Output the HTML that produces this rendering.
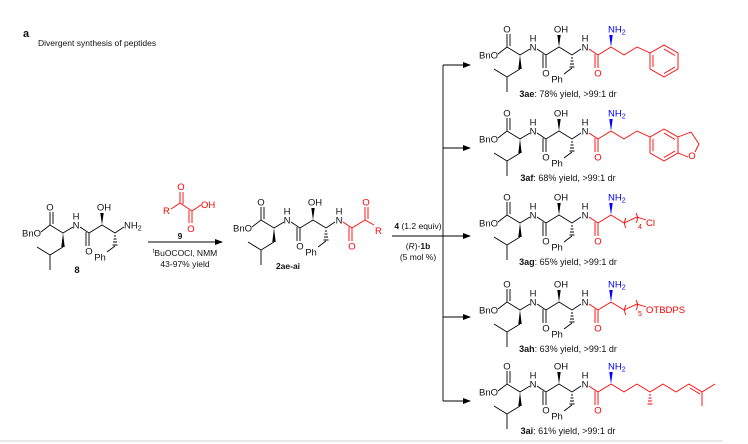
<!DOCTYPE html>
<html><head><meta charset="utf-8"><style>
html,body{margin:0;padding:0;background:#fff;width:748px;height:444px;overflow:hidden}
svg{display:block}
text{font-family:"Liberation Sans",sans-serif;font-size:9.5px;fill:#111}
.k{stroke:#000;stroke-width:0.9;fill:none}
.r{stroke:#f00;stroke-width:0.9;fill:none}
.rt{fill:#f00}
.bt{fill:#00f}
.cap{font-size:9px}
.mid{text-anchor:middle}
</style></head><body>
<svg width="748" height="444" viewBox="0 0 748 444">
<defs>
<marker id="ah" markerWidth="8" markerHeight="6" refX="7" refY="3" orient="auto" markerUnits="userSpaceOnUse"><path d="M0,0 L8,3 L0,6 Z" fill="#000"/></marker>
<g id="bb">
<path class="k" d="M19,-1 L28,-8 L41,0 L51,-6 M58,-6 L67,0 L80,-8 L93,0 L102,-6 M28,-8 V-21 M31,-9 V-21 M67,0 V13 M64,-1 V13 M41,14 L28,22 L15,14 M28,22 V37 M93,13 L85,19"/>
<polygon points="41,0 39.3,14 42.7,14" fill="#000"/>
<polygon points="80,-8 78.3,-20 81.7,-20" fill="#000"/>
<path class="k" d="M92,3 h2 M91.5,6 h3 M91,9 h4 M90.5,12 h5"/>
</g>
<g id="rd">
<path class="r" d="M110,-6 L119,0 L132,-8 M119,0 V13 M116,-1 V13"/>
<polygon points="132,-8 130.3,-20 133.7,-20" fill="#00f"/>
</g>
</defs>

<text x="23" y="37" style="font-weight:bold;font-size:11px">a</text>
<text x="38" y="46" style="font-size:8.5px">Divergent synthesis of peptides</text>

<!-- compound 8 -->
<g transform="translate(22,233)">
<use href="#bb"/>
<text x="0" y="3.5">BnO</text>
<text class="mid" x="28" y="-22.5">O</text>
<text class="mid" x="54" y="-4.5">N</text><text class="mid" x="54" y="-13.5">H</text>
<text class="mid" x="67" y="21.5">O</text>
<text class="mid" x="82" y="-22.5">OH</text>
<text class="mid" x="78" y="27.5">Ph</text>
<text x="102" y="-4.5">NH<tspan font-size="7" dy="2">2</tspan></text>
<text class="mid" x="55" y="40" style="font-weight:bold">8</text>
</g>

<!-- reagent 9 -->
<g transform="translate(0,-2)">
<path class="r" d="M171,211 L180,205 L192,213 L201,207 M180,205 V194 M183,206 V194 M192,213 V225 M189,212 V225"/>
<text class="rt" x="163" y="216">R</text>
<text class="rt mid" x="181" y="192">O</text>
<text class="rt" x="201" y="210">OH</text>
<text class="rt mid" x="191" y="234">O</text>
</g>
<text class="mid" x="180" y="239" style="font-weight:bold;font-size:8.5px">9</text>
<line x1="148" y1="242" x2="222" y2="242" stroke="#000" stroke-width="0.9" marker-end="url(#ah)"/>
<text class="mid" x="185" y="256" style="font-size:8.5px"><tspan font-size="6" dy="-3">t</tspan><tspan dy="3">BuOCOCl, NMM</tspan></text>
<text class="mid" x="185" y="267" style="font-size:8.5px">43-97% yield</text>

<!-- compound 2ae-ai -->
<g transform="translate(233,228)">
<use href="#bb"/>
<path class="r" d="M110,-6 L119,0 L132,-8 L141,-3 M119,0 V13 M116,-1 V13 M132,-8 V-21 M135,-9 V-21"/>
<text x="0" y="3.5">BnO</text>
<text class="mid" x="28" y="-22.5">O</text>
<text class="mid" x="54" y="-4.5">N</text><text class="mid" x="54" y="-13.5">H</text>
<text class="mid" x="67" y="21.5">O</text>
<text class="mid" x="82" y="-22.5">OH</text>
<text class="mid" x="78" y="27.5">Ph</text>
<text class="mid" x="106" y="-4.5">N</text><text class="mid" x="106" y="-13.5">H</text>
<text class="rt mid" x="119" y="21.5">O</text>
<text class="rt mid" x="133" y="-22.5">O</text>
<text class="rt" x="142" y="6">R</text>
<text class="mid" x="55" y="41" style="font-weight:bold;font-size:8.5px">2ae-ai</text>
</g>

<!-- second arrow & conditions -->
<line x1="392" y1="236" x2="443" y2="236" stroke="#000" stroke-width="0.9"/>
<text class="mid" x="418" y="229" style="font-size:8.5px"><tspan font-weight="bold">4</tspan> (1.2 equiv)</text>
<text class="mid" x="418" y="249" style="font-size:8.5px">(<tspan font-style="italic">R</tspan>)-<tspan font-weight="bold">1b</tspan></text>
<text class="mid" x="418" y="260" style="font-size:8.5px">(5 mol %)</text>
<line x1="443" y1="65" x2="443" y2="401" stroke="#000" stroke-width="0.9"/>
<g stroke="#000" stroke-width="0.9">
<line x1="443" y1="65" x2="470" y2="65" marker-end="url(#ah)"/>
<line x1="443" y1="148" x2="470" y2="148" marker-end="url(#ah)"/>
<line x1="443" y1="236" x2="470" y2="236" marker-end="url(#ah)"/>
<line x1="443" y1="317" x2="470" y2="317" marker-end="url(#ah)"/>
<line x1="443" y1="401" x2="470" y2="401" marker-end="url(#ah)"/>
</g>

<!-- row 1: 3ae -->
<g transform="translate(479,55)">
<use href="#bb"/><use href="#rd"/>
<text x="0" y="3.5">BnO</text>
<text class="mid" x="28" y="-22.5">O</text>
<text class="mid" x="54" y="-4.5">N</text><text class="mid" x="54" y="-13.5">H</text>
<text class="mid" x="67" y="21.5">O</text>
<text class="mid" x="82" y="-22.5">OH</text>
<text class="mid" x="78" y="27.5">Ph</text>
<text class="mid" x="106" y="-4.5">N</text><text class="mid" x="106" y="-13.5">H</text>
<text class="rt mid" x="119" y="21.5">O</text>
<text class="bt" x="129" y="-22.5">NH<tspan font-size="7" dy="2">2</tspan></text>
<path class="r" d="M132,-8 L145,0 L158,-8 L171,-2 M185,-10 L199,-2 L199,14 L185,22 L171,14 L171,-2 Z M185,-6 L196,0.5 M196,12 L185,18.5 M174,12 V0"/>
<text class="cap mid" x="89" y="42"><tspan font-weight="bold">3ae</tspan>: 78% yield, &gt;99:1 dr</text>
</g>

<!-- row 2: 3af -->
<g transform="translate(479,139)">
<use href="#bb"/><use href="#rd"/>
<text x="0" y="3.5">BnO</text>
<text class="mid" x="28" y="-22.5">O</text>
<text class="mid" x="54" y="-4.5">N</text><text class="mid" x="54" y="-13.5">H</text>
<text class="mid" x="67" y="21.5">O</text>
<text class="mid" x="82" y="-22.5">OH</text>
<text class="mid" x="78" y="27.5">Ph</text>
<text class="mid" x="106" y="-4.5">N</text><text class="mid" x="106" y="-13.5">H</text>
<text class="rt mid" x="119" y="21.5">O</text>
<text class="bt" x="129" y="-22.5">NH<tspan font-size="7" dy="2">2</tspan></text>
<path class="r" d="M132,-8 L145,0 L158,-8 L171,-2 M185,-10 L199,-2 L199,14 L185,22 L171,14 L171,-2 Z M185,-6 L196,0.5 M196,12 L185,18.5 M174,12 V0 M199,-2 L212,-7 L220,5 L216,13 M209,18 L199,14"/>
<text class="rt mid" x="213" y="20">O</text>
<text class="cap mid" x="89" y="42"><tspan font-weight="bold">3af</tspan>: 68% yield, &gt;99:1 dr</text>
</g>

<!-- row 3: 3ag -->
<g transform="translate(479,223)">
<use href="#bb"/><use href="#rd"/>
<text x="0" y="3.5">BnO</text>
<text class="mid" x="28" y="-22.5">O</text>
<text class="mid" x="54" y="-4.5">N</text><text class="mid" x="54" y="-13.5">H</text>
<text class="mid" x="67" y="21.5">O</text>
<text class="mid" x="82" y="-22.5">OH</text>
<text class="mid" x="78" y="27.5">Ph</text>
<text class="mid" x="106" y="-4.5">N</text><text class="mid" x="106" y="-13.5">H</text>
<text class="rt mid" x="119" y="21.5">O</text>
<text class="bt" x="129" y="-22.5">NH<tspan font-size="7" dy="2">2</tspan></text>
<path class="r" d="M132,-8 L145,0 L158,-6 L167,-3 M147,-5 Q144,0 147,5 M157,-10 Q160,-5 157,0"/>
<text class="rt" x="159" y="6" style="font-size:7px">4</text>
<text class="rt" x="167" y="3">Cl</text>
<text class="cap mid" x="89" y="42"><tspan font-weight="bold">3ag</tspan>: 65% yield, &gt;99:1 dr</text>
</g>

<!-- row 4: 3ah -->
<g transform="translate(479,310)">
<use href="#bb"/><use href="#rd"/>
<text x="0" y="3.5">BnO</text>
<text class="mid" x="28" y="-22.5">O</text>
<text class="mid" x="54" y="-4.5">N</text><text class="mid" x="54" y="-13.5">H</text>
<text class="mid" x="67" y="21.5">O</text>
<text class="mid" x="82" y="-22.5">OH</text>
<text class="mid" x="78" y="27.5">Ph</text>
<text class="mid" x="106" y="-4.5">N</text><text class="mid" x="106" y="-13.5">H</text>
<text class="rt mid" x="119" y="21.5">O</text>
<text class="bt" x="129" y="-22.5">NH<tspan font-size="7" dy="2">2</tspan></text>
<path class="r" d="M132,-8 L145,0 L158,-6 L167,-3 M147,-5 Q144,0 147,5 M157,-10 Q160,-5 157,0"/>
<text class="rt" x="159" y="6" style="font-size:7px">5</text>
<text class="rt" x="167" y="3">OTBDPS</text>
<text class="cap mid" x="89" y="42"><tspan font-weight="bold">3ah</tspan>: 63% yield, &gt;99:1 dr</text>
</g>

<!-- row 5: 3ai -->
<g transform="translate(479,392)">
<use href="#bb"/><use href="#rd"/>
<text x="0" y="3.5">BnO</text>
<text class="mid" x="28" y="-22.5">O</text>
<text class="mid" x="54" y="-4.5">N</text><text class="mid" x="54" y="-13.5">H</text>
<text class="mid" x="67" y="21.5">O</text>
<text class="mid" x="82" y="-22.5">OH</text>
<text class="mid" x="78" y="27.5">Ph</text>
<text class="mid" x="106" y="-4.5">N</text><text class="mid" x="106" y="-13.5">H</text>
<text class="rt mid" x="119" y="21.5">O</text>
<text class="bt" x="129" y="-22.5">NH<tspan font-size="7" dy="2">2</tspan></text>
<path class="r" d="M132,-8 L145,0 L158,-8 L171,0 L184,-8 L197,0 L210,-8 L223,0 L236,-8 M223,0 V14 M211,-4 L221,2 M170,3 h2 M169.5,6 h3 M169,9 h4 M168.5,12 h5"/>
<text class="cap mid" x="89" y="42"><tspan font-weight="bold">3ai</tspan>: 61% yield, &gt;99:1 dr</text>
</g>

<line x1="0" y1="441" x2="723" y2="441" stroke="#ddd" stroke-width="1.2"/>
</svg>
</body></html>
